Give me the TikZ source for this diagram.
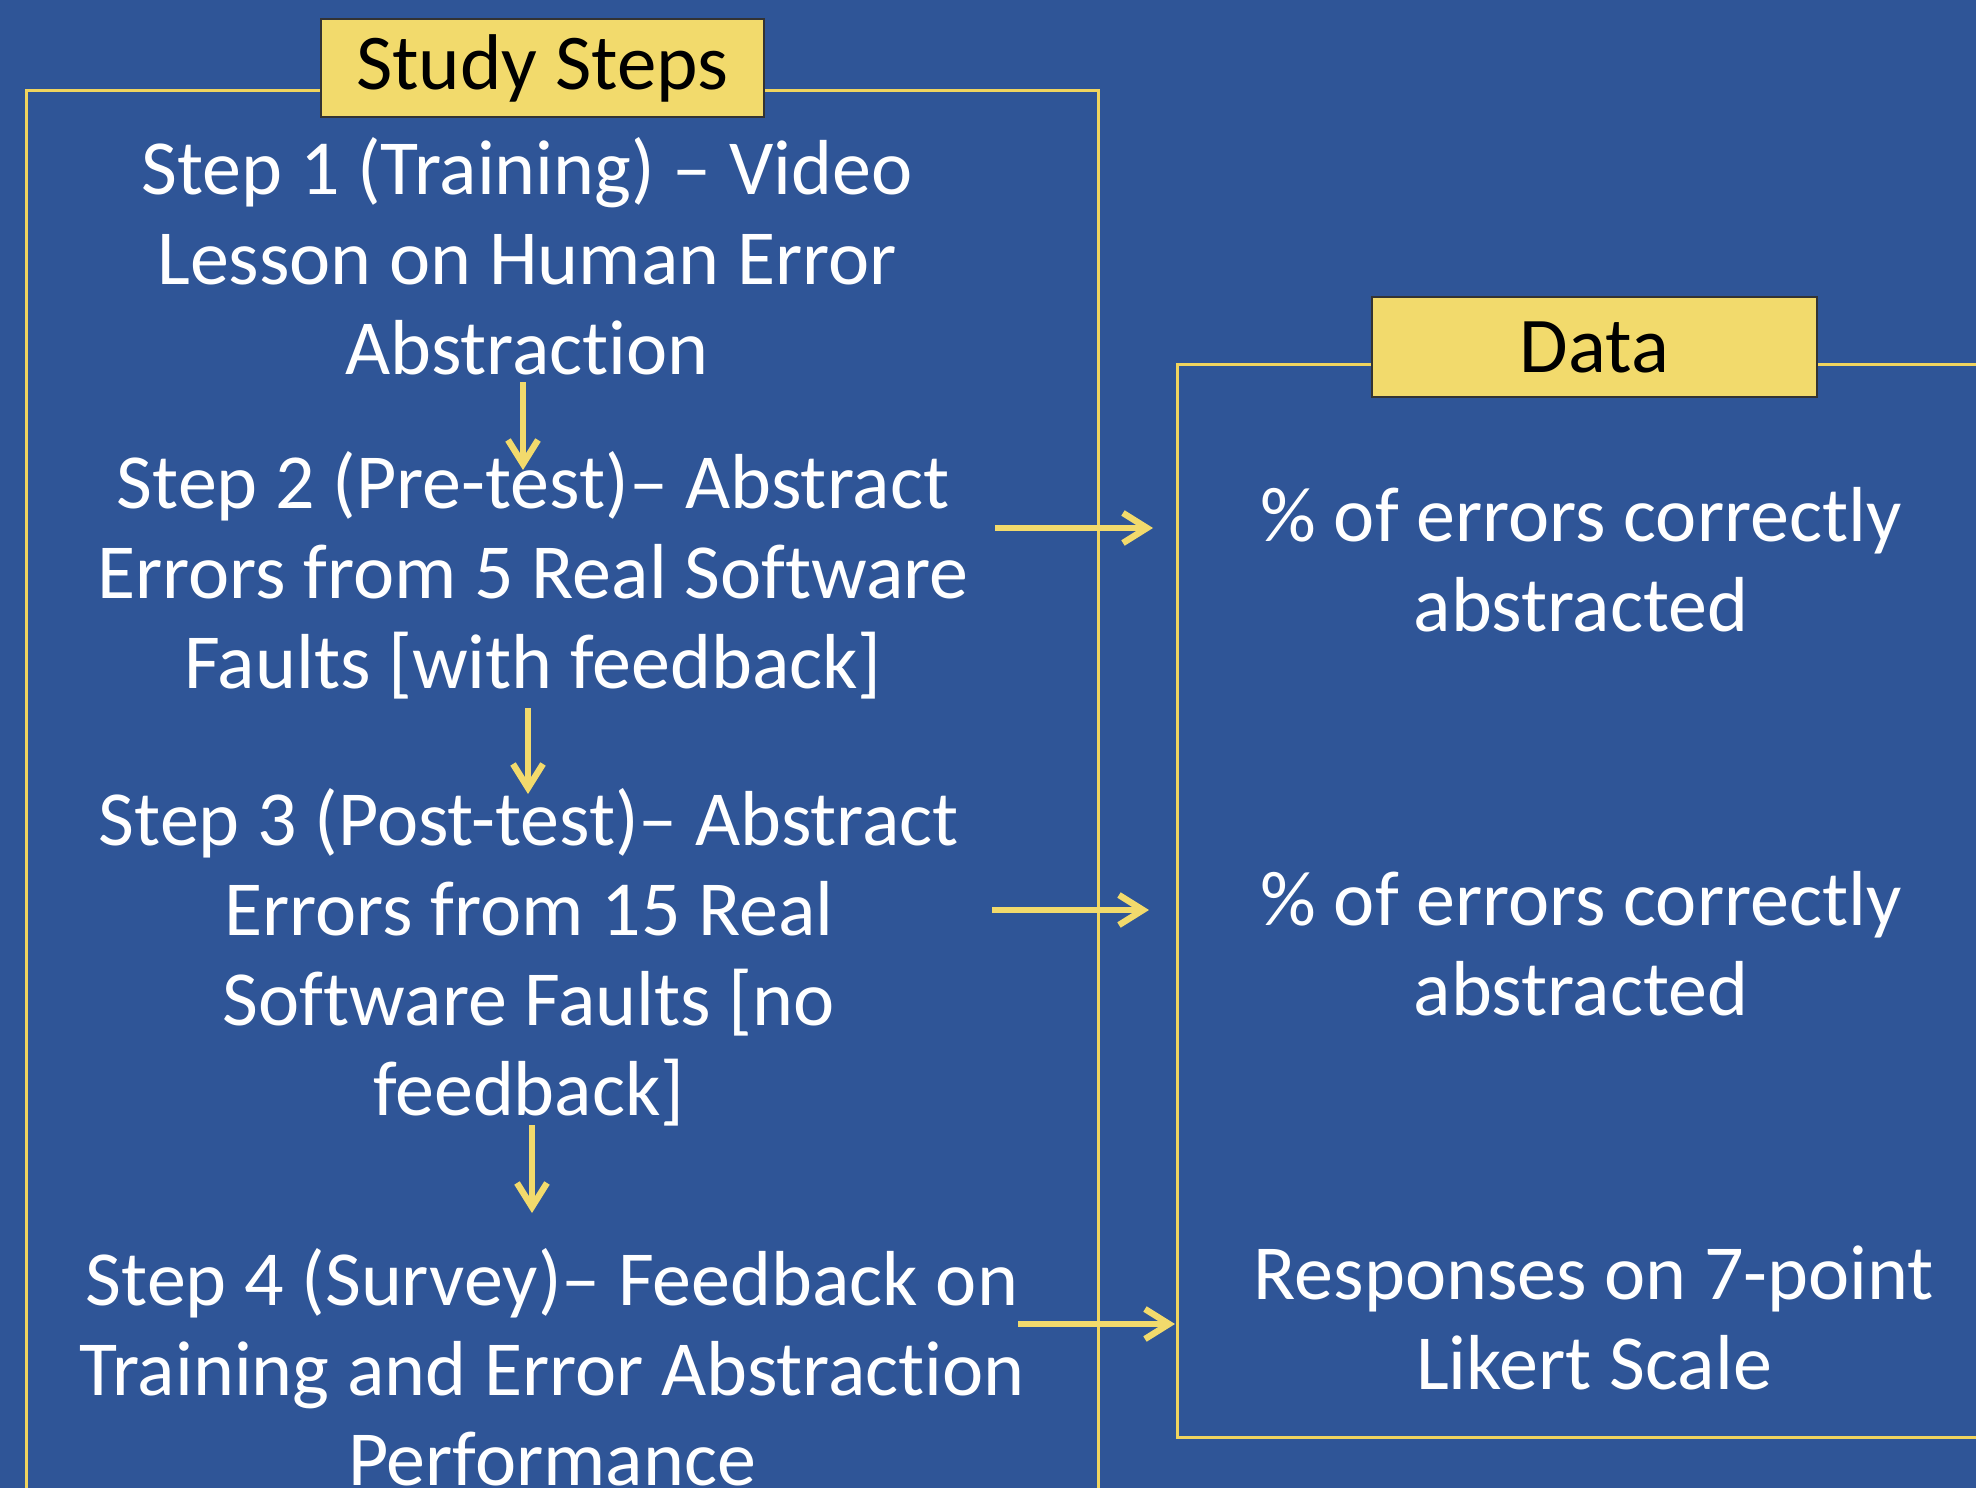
\documentclass[tikz,border=0pt]{standalone}
\usepackage{fontspec}
\setmainfont[Ligatures={NoCommon}]{Carlito}
\usetikzlibrary{arrows.meta}
\definecolor{bg}{HTML}{2F5597}
\definecolor{gold}{HTML}{F2DA6C}
\definecolor{goldline}{HTML}{F0D45E}
\begin{document}
\begin{tikzpicture}[x=0.5pt,y=-0.5pt,
  txt/.style={text=white,align=center,font=\fontsize{39}{45}\selectfont,inner sep=0pt},
  lbl/.style={fill=gold,draw=black!80,line width=0.6pt,text=black,font=\fontsize{39.5}{45}\selectfont,inner sep=0pt},
  frame/.style={draw=goldline,line width=1.5pt},
  arr/.style={draw=gold,line width=3.2pt,-{Straight Barb[length=12pt,width=15pt]}}]
\fill[bg] (0,0) rectangle (1976,1488);
\useasboundingbox (0,0) rectangle (1976,1488);
\begin{scope}
\clip (0,0) rectangle (1976,1488);
\draw[frame] (26,1500) -- (26,90) -- (1098,90) -- (1098,1500);
\draw[frame] (2000,364) -- (1177,364) -- (1177,1437) -- (2000,1437);
\node[lbl,minimum width=221.5pt,minimum height=49pt] (ss) at (542.5,68) {Study Steps};
\node[lbl,minimum width=222.5pt,minimum height=50pt] (dt) at (1594.5,347) {Data};
\node[txt] (s1) at (527,256) {Step 1 (Training) – Video\\Lesson on Human Error\\Abstraction};
\node[txt] (s2) at (533,575) {Step 2 (Pre-test)– Abstract\\Errors from 5 Real Software\\Faults [with feedback]};
\node[txt] (s3) at (529,957) {Step 3 (Post-test)– Abstract\\Errors from 15 Real\\Software Faults [no\\feedback]};
\node[txt] (s4) at (552,1367) {Step 4 (Survey)– Feedback on\\Training and Error Abstraction\\Performance};
\node[txt] (d1) at (1581,560) {\% of errors correctly\\abstracted};
\node[txt] (d2) at (1581,944) {\% of errors correctly\\abstracted};
\node[txt] (d3) at (1594,1318) {Responses on 7-point\\Likert Scale};
\coordinate (v1a) at (523,382); \coordinate (v1b) at (523,470);
\coordinate (v2a) at (528,708); \coordinate (v2b) at (528,794);
\coordinate (v3a) at (532,1125); \coordinate (v3b) at (532,1213);
\coordinate (h1a) at (995,528); \coordinate (h1b) at (1153,528);
\coordinate (h2a) at (992,910); \coordinate (h2b) at (1149,910);
\coordinate (h3a) at (1018,1324); \coordinate (h3b) at (1175,1324);
\draw[arr] (v1a) -- (v1b);
\draw[arr] (v2a) -- (v2b);
\draw[arr] (v3a) -- (v3b);
\draw[arr] (h1a) -- (h1b);
\draw[arr] (h2a) -- (h2b);
\draw[arr] (h3a) -- (h3b);
\end{scope}
\end{tikzpicture}
\end{document}
